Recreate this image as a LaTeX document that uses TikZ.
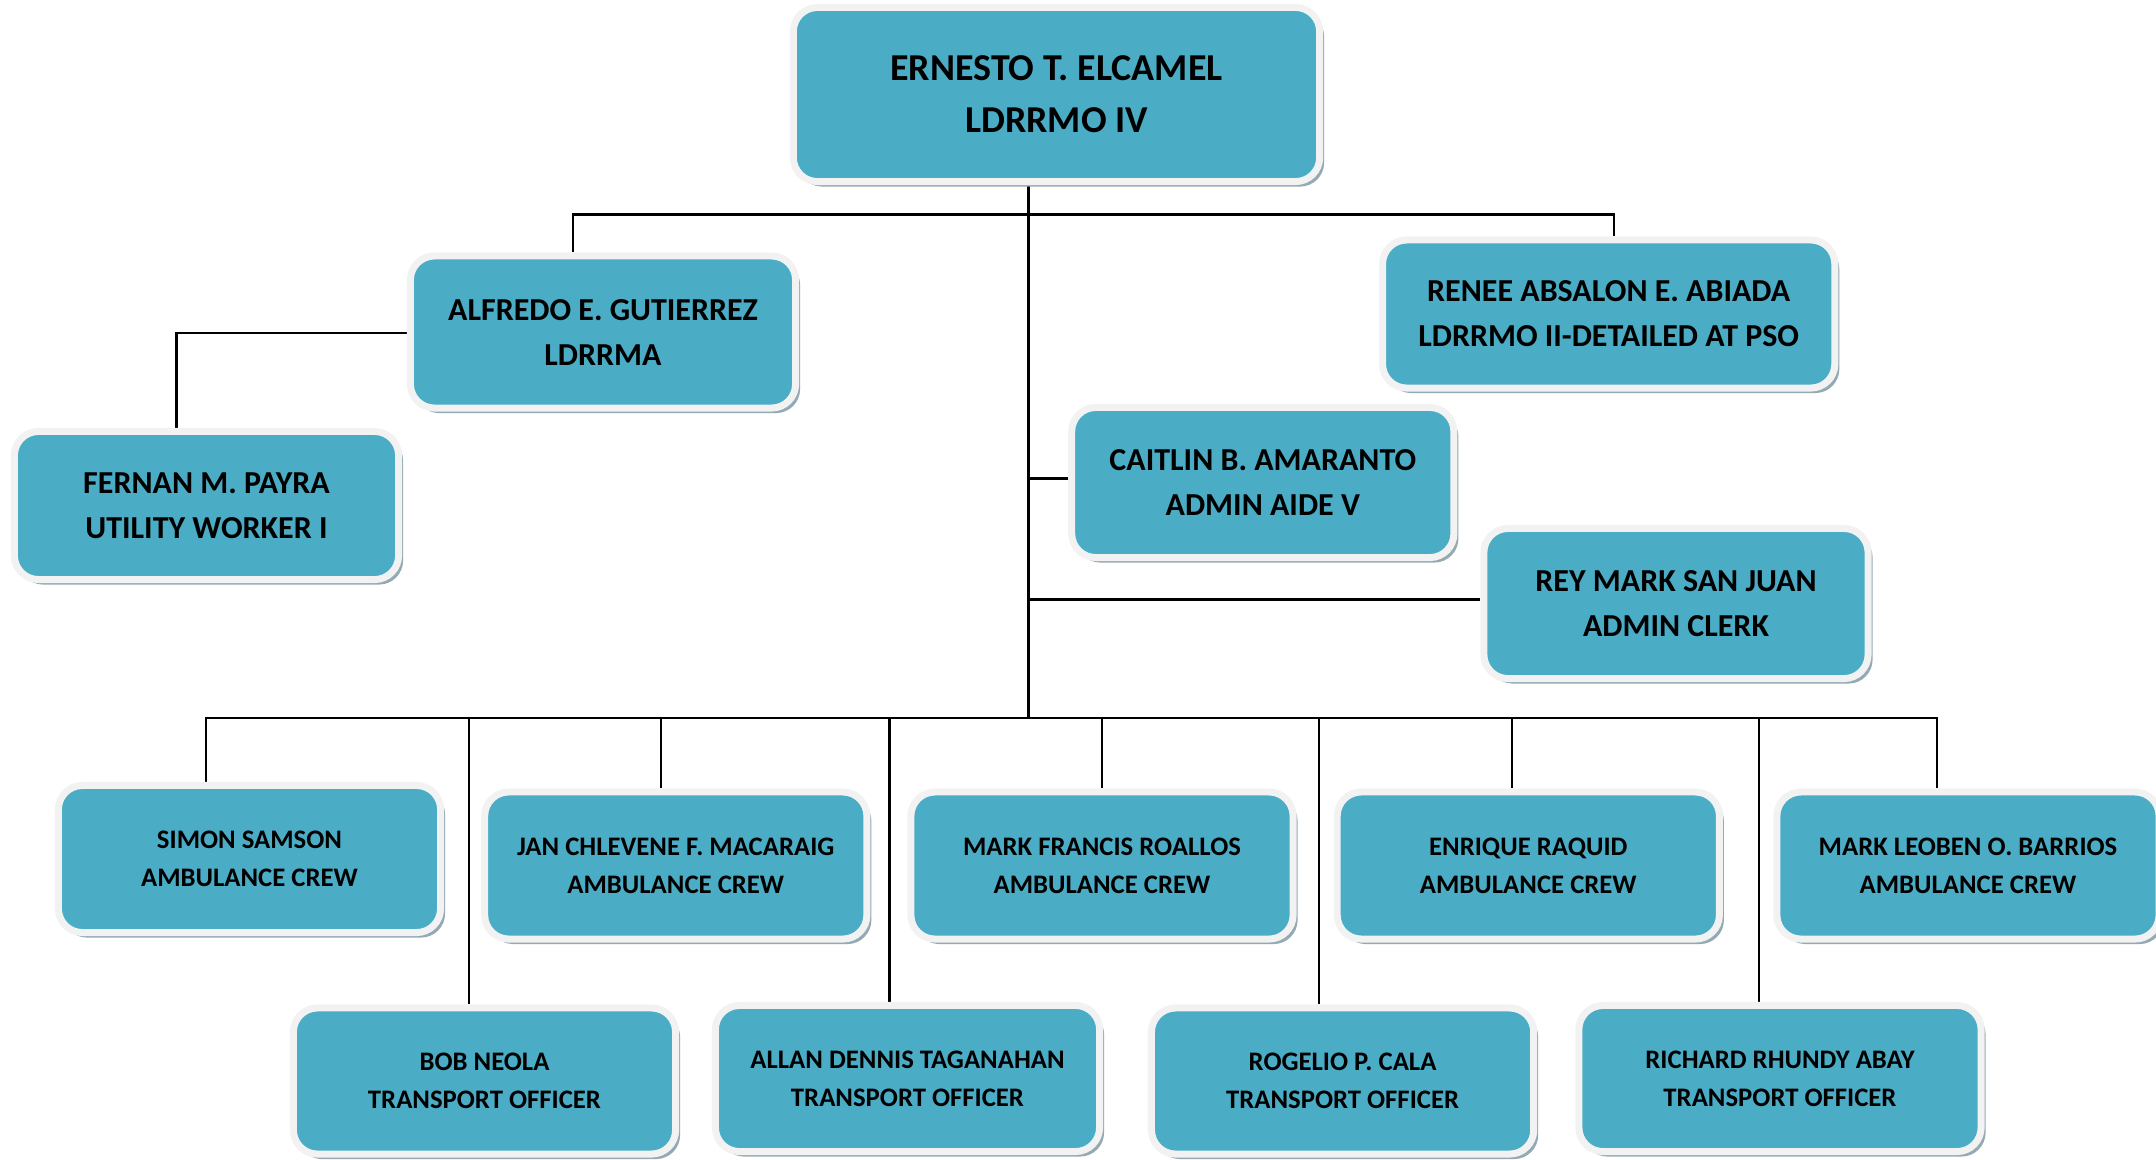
\documentclass[tikz,border=0pt]{standalone}
\usepackage{fontspec}
\setmainfont{Carlito}
\usepackage{tikz}
\usetikzlibrary{shadows,backgrounds}

\definecolor{boxteal}{HTML}{4BACC6}
\definecolor{boxrim}{HTML}{F2F2F2}
\definecolor{boxshade}{HTML}{93AAB4}

\begin{document}
\begin{tikzpicture}[x=0.01cm,y=-0.01cm,
	post/.style={rounded corners=0.24cm,fill=boxteal,draw=boxrim,line width=0.07cm,
		align=center,inner sep=0pt,
		drop shadow={shadow xshift=0.045cm,shadow yshift=-0.05cm,fill=boxshade,opacity=1}},
	headpost/.style={post,font=\fontsize{10.8}{14.8}\selectfont\bfseries},
	midpost/.style={post,font=\fontsize{9.1}{12.8}\selectfont\bfseries},
	crewpost/.style={post,font=\fontsize{7.6}{10.8}\selectfont\bfseries},
	link/.style={draw=black,line width=0.6pt}]
	
	\useasboundingbox (0,0) rectangle (2156,1159);
	
	% head
	\node[headpost,minimum width=5.26cm,minimum height=1.74cm] (e) at (1056.5,94.5)  {ERNESTO T. ELCAMEL\\LDRRMO IV};
	
	% second level
	\node[midpost,minimum width=3.85cm,minimum height=1.52cm] (a) at (603,332)      {ALFREDO E. GUTIERREZ\\LDRRMA};
	\node[midpost,minimum width=3.84cm,minimum height=1.48cm] (f) at (206.5,505.5)  {FERNAN M. PAYRA\\UTILITY WORKER I};
	\node[midpost,minimum width=4.52cm,minimum height=1.48cm] (r) at (1608.7,314)   {RENEE ABSALON E. ABIADA\\LDRRMO II-DETAILED AT PSO};
	\node[midpost,minimum width=3.82cm,minimum height=1.50cm] (c) at (1262.8,482.5) {CAITLIN B. AMARANTO\\ADMIN AIDE V};
	\node[midpost,minimum width=3.84cm,minimum height=1.50cm] (m) at (1676,603.5)   {REY MARK SAN JUAN\\ADMIN CLERK};
	
	% ambulance crew
	\node[crewpost,minimum width=3.82cm,minimum height=1.47cm] (s)  at (249.5,859)   {SIMON SAMSON\\AMBULANCE CREW};
	\node[crewpost,minimum width=3.82cm,minimum height=1.47cm] (j)  at (675.8,865.5) {JAN CHLEVENE F. MACARAIG\\AMBULANCE CREW};
	\node[crewpost,minimum width=3.82cm,minimum height=1.47cm] (mf) at (1102,865.5)  {MARK FRANCIS ROALLOS\\AMBULANCE CREW};
	\node[crewpost,minimum width=3.82cm,minimum height=1.47cm] (q)  at (1528.3,865.5){ENRIQUE RAQUID\\AMBULANCE CREW};
	\node[crewpost,minimum width=3.82cm,minimum height=1.47cm] (ml) at (1968,865.5)  {MARK LEOBEN O. BARRIOS\\AMBULANCE CREW};
	
	% transport officers
	\node[crewpost,minimum width=3.82cm,minimum height=1.46cm] (b)  at (484.5,1081) {BOB NEOLA\\TRANSPORT OFFICER};
	\node[crewpost,minimum width=3.84cm,minimum height=1.46cm] (t)  at (907.5,1078.5){ALLAN DENNIS TAGANAHAN\\TRANSPORT OFFICER};
	\node[crewpost,minimum width=3.82cm,minimum height=1.46cm] (g)  at (1342.6,1081){ROGELIO P. CALA\\TRANSPORT OFFICER};
	\node[crewpost,minimum width=4.02cm,minimum height=1.46cm] (ra) at (1780,1078.5) {RICHARD RHUNDY ABAY\\TRANSPORT OFFICER};
	
	\coordinate (top) at (1028.5,214.5);
	\coordinate (bus) at (1028.5,717.8);
	
	\begin{scope}[on background layer]
	\path[link] (e.south -| top) -- (bus);
	\path[link] (top) -| ([xshift=-0.3cm]a.north);
	\path[link] (top) -| ([xshift=0.05cm]r.north);
	\path[link] ([yshift=-0.01cm]a.west) -| ([xshift=-0.3cm]f.north);
	\path[link] ([yshift=0.04cm]c.west) -- ([yshift=0.04cm]c.west -| top);
	\path[link] ([yshift=0.04cm]m.west) -- ([yshift=0.04cm]m.west -| top);
	\foreach \n/\dx in {s/-0.435,j/-0.15,mf/0,q/-0.16,ml/-0.31,b/-0.155,t/-0.18,g/-0.24,ra/-0.21}
		\path[link] (bus) -| ([xshift=\dx cm]\n.north);
	\end{scope}
\end{tikzpicture}
\end{document}
